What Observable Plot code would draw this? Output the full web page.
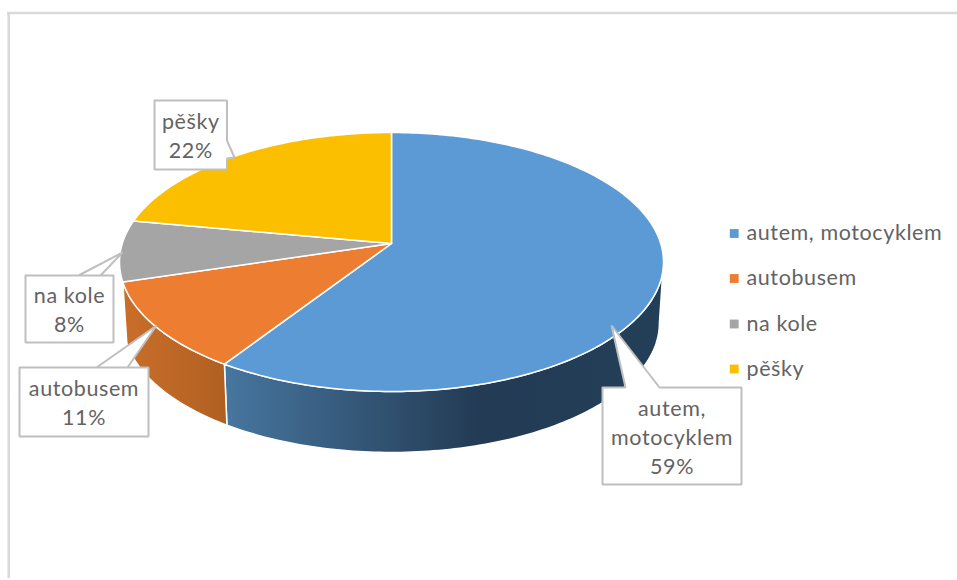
<!DOCTYPE html>
<html>
<head>
<meta charset="utf-8">
<script src="https://cdn.jsdelivr.net/npm/d3@7"></script>
<script src="https://cdn.jsdelivr.net/npm/@observablehq/plot@0.6"></script>
<style>html,body{margin:0;padding:0;background:#fff}svg{display:block}</style>
</head>
<body>
<div id="chart"></div>
<script>
// Data
const categories = ["autem, motocyklem", "autobusem", "na kole", "pěšky"];
const shares = [59.2, 11.1, 7.6, 22.1];
const colors = ["#5b9ad5", "#ed7d31", "#a5a5a5", "#fcbf00"];

// Layout: perspective disc
const W = 957, H = 580;
const CX = 391, APEX_Y = 243, RADIUS = 269.2, SPREAD = 92.1, TILT = 0.1429;
const DEPTH = 61, BOTTOM_SCALE = 0.985;
const VISIBLE = [98.2, 252];
const rad = (a) => a * Math.PI / 180;

function rim(deg, bottom = false) {
  const u = Math.sin(rad(deg)), v = -Math.cos(rad(deg));
  const w = 1 - TILT * v;
  const s = bottom ? BOTTOM_SCALE : 1;
  return {x: CX + s * RADIUS * u / w, y: (SPREAD * v + APEX_Y) / w + (bottom ? DEPTH : 0)};
}
function arc(a0, a1, bottom = false) {
  const n = Math.max(2, Math.ceil(Math.abs(a1 - a0)));
  return d3.range(n + 1).map((i) => rim(a0 + (a1 - a0) * i / n, bottom));
}

let acc = 0;
const total = d3.sum(shares);
const slices = shares.map((v, i) => {
  const a0 = acc / total * 360; acc += v;
  return {i, a0, a1: acc / total * 360};
});

const topPolys = slices.map((s) => {
  const apex = {x: CX, y: APEX_Y};
  return [apex, ...arc(s.a0, s.a1), apex];
});
const sideFill = ["url(#sideBlue)", "url(#sideOrange)"];
const sides = slices.map((s) => {
  const a0 = Math.max(s.a0, VISIBLE[0]), a1 = Math.min(s.a1, VISIBLE[1] + 1.5);
  if (a1 - a0 < 2) return null;
  const t = arc(a0, a1), b = arc(a1, a0, true);
  return {i: s.i, pts: [...t, ...b, t[0]]};
}).filter(Boolean);

// Layout: callouts (box + leader wedge)
const callouts = [
  {i: 0, lines: 3, box: [602, 387, 741, 484], wedge: [[659, 387], [611, 325], [625, 387]], side: "top"},
  {i: 1, lines: 2, box: [19, 367, 148, 436], wedge: [[96, 367], [156, 325], [127, 367]], side: "top"},
  {i: 2, lines: 2, box: [25, 275, 113, 342], wedge: [[78, 275], [122, 252], [100, 275]], side: "top"},
  {i: 3, lines: 2, box: [154, 100, 226.5, 169], wedge: [[226.5, 140], [234, 157], [226.5, 158]], side: "right"}
];
function calloutPoly(c) {
  const [x0, y0, x1, y1] = c.box;
  const w = c.wedge.map(([x, y]) => ({x, y}));
  return c.side === "top"
    ? [{x: x0, y: y0}, ...w.slice().reverse(), {x: x1, y: y0}, {x: x1, y: y1}, {x: x0, y: y1}, {x: x0, y: y0}]
    : [{x: x0, y: y0}, {x: x1, y: y0}, ...w, {x: x1, y: y1}, {x: x0, y: y1}, {x: x0, y: y0}];
}
const labelRows = callouts.map((c) => ({
  x: (c.box[0] + c.box[2]) / 2,
  y: (c.box[1] + c.box[3]) / 2 - 0.5,
  text: categories[c.i].replace(", ", ",\n") + "\n" + Math.round(shares[c.i]) + "%"
}));

// Layout: legend
const legendY = [233, 278, 323.5, 368.5];
const legendRows = categories.map((name, i) => ({name, color: colors[i], y: legendY[i]}));
const legendDotY = [233, 278, 323.5, 368.5];

const FONT = "Lato, sans-serif";
const TEXT = "#636363";
const TRACK = "0.6px";

const defs = () => {
  const d = d3.create("svg:defs");
  const grad = (id, stops) => {
    const g = d.append("linearGradient").attr("id", id).attr("x1", 0).attr("x2", 1).attr("y1", 0).attr("y2", 0);
    stops.forEach(([o, c]) => g.append("stop").attr("offset", o).attr("stop-color", c));
  };
  grad("sideBlue", [[0, "#47769f"], [0.58, "#233b54"], [1, "#233f58"]]);
  grad("sideOrange", [[0, "#ca6e2a"], [1, "#b06022"]]);
  return d.node();
};

const chart = Plot.plot({
  width: W, height: H,
  margin: 0,
  x: {domain: [0, W], range: [0, W], axis: null},
  y: {domain: [0, H], range: [0, H], axis: null},
  style: {background: "#fff", fontFamily: FONT},
  marks: [
    defs,
    // frame
    Plot.ruleY([12.5], {x1: 7, x2: W, stroke: "#d9d9d9", strokeWidth: 2.5}),
    Plot.ruleX([8.2], {y1: 12, y2: 578, stroke: "#d9d9d9", strokeWidth: 2.5}),
    // side walls
    ...sides.map((s) => Plot.line(s.pts, {x: "x", y: "y", fill: sideFill[s.i], stroke: "#fff", strokeWidth: 1.5, curve: "linear"})),
    // top slices
    ...topPolys.map((p, i) => Plot.line(p, {x: "x", y: "y", fill: colors[i], stroke: "#fff", strokeWidth: 1.5, strokeLinejoin: "round", curve: "linear"})),
    // callouts
    ...callouts.map((c) => Plot.line(calloutPoly(c), {x: "x", y: "y", fill: "#fff", stroke: "#bfbfbf", strokeWidth: 2, strokeLinejoin: "miter", curve: "linear"})),
    Plot.text(labelRows, {x: "x", y: "y", text: "text", fontSize: 21.5, lineHeight: 1.35, fill: TEXT, textAnchor: "middle", lineAnchor: "middle", fontFamily: FONT}),
    // legend
    Plot.dot(legendRows, {x: 733.7, y: (d, i) => legendDotY[i], symbol: "square", r: 5, fill: (d) => d.color, stroke: "none"}),
    Plot.text(legendRows, {x: 746, y: "y", text: "name", fontSize: 21.5, fill: TEXT, textAnchor: "start", lineAnchor: "middle", fontFamily: FONT})
  ],
  color: {type: "identity"}
});
chart.querySelectorAll("text").forEach((t) => t.setAttribute("letter-spacing", TRACK));
document.getElementById("chart").append(chart);
</script>
</body>
</html>
